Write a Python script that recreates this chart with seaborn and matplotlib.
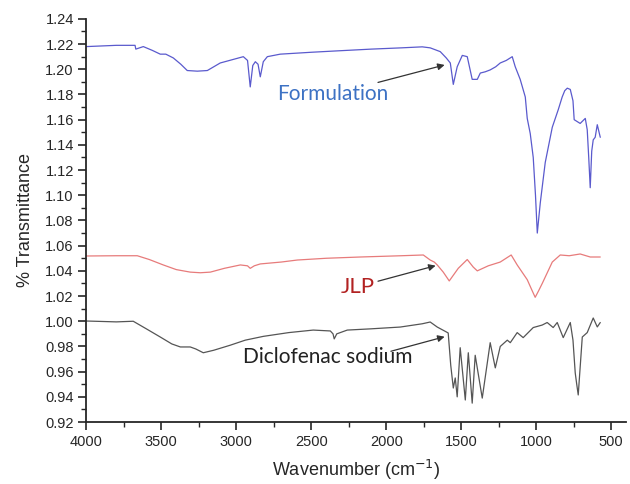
import numpy as np
import pandas as pd
import matplotlib
matplotlib.use("Agg")
import matplotlib.pyplot as plt
from matplotlib.ticker import MultipleLocator
import seaborn as sns

# --- data ---
form_wn = [4000, 3900, 3800, 3700, 3675, 3670, 3620, 3560, 3507, 3470, 3420, 3370, 3327, 3260, 3193, 3107,
           2953, 2925, 2907, 2890, 2873, 2855, 2840, 2820, 2793, 2707, 2500, 2327, 2100, 1900, 1760, 1707,
           1640, 1600, 1573, 1553, 1527, 1493, 1460, 1427, 1393, 1373, 1340, 1307, 1270, 1240, 1200, 1160,
           1140, 1107, 1073, 1060, 1040, 1020, 1005, 993, 973, 940, 893, 853, 827, 810, 793, 773, 755, 747,
           707, 673, 660, 650, 640, 630, 620, 607, 593, 573]
form_val = [1.218, 1.2185, 1.219, 1.219, 1.219, 1.216, 1.218, 1.215, 1.212, 1.212, 1.209, 1.204, 1.199, 1.1985,
            1.199, 1.205, 1.210, 1.207, 1.186, 1.203, 1.206, 1.204, 1.194, 1.206, 1.210, 1.212, 1.2135, 1.2146,
            1.216, 1.217, 1.2178, 1.217, 1.214, 1.209, 1.205, 1.188, 1.202, 1.211, 1.210, 1.192, 1.192, 1.197,
            1.198, 1.1995, 1.202, 1.205, 1.207, 1.210, 1.202, 1.192, 1.178, 1.161, 1.149, 1.130, 1.100, 1.070,
            1.094, 1.126, 1.154, 1.168, 1.178, 1.183, 1.185, 1.184, 1.175, 1.160, 1.157, 1.161, 1.152, 1.130,
            1.106, 1.135, 1.144, 1.146, 1.156, 1.146]

jlp_wn = [4000, 3800, 3660, 3580, 3487, 3400, 3307, 3240, 3173, 3080, 2973, 2925, 2907, 2880, 2840, 2700,
          2593, 2400, 2173, 1900, 1753, 1707, 1680, 1660, 1620, 1580, 1520, 1460, 1420, 1393, 1320, 1240,
          1167, 1127, 1060, 1030, 1007, 985, 960, 893, 840, 780, 707, 640, 573]
jlp_val = [1.0518, 1.052, 1.052, 1.049, 1.0447, 1.041, 1.039, 1.0385, 1.039, 1.042, 1.0447, 1.044, 1.042,
           1.044, 1.0455, 1.047, 1.0486, 1.050, 1.051, 1.052, 1.0526, 1.0486, 1.047, 1.0447, 1.039, 1.032,
           1.042, 1.049, 1.043, 1.040, 1.044, 1.047, 1.0526, 1.0447, 1.033, 1.025, 1.019, 1.024, 1.030, 1.047,
           1.0526, 1.052, 1.0534, 1.051, 1.051]

dic_wn = [4000, 3800, 3687, 3600, 3507, 3430, 3373, 3307, 3270, 3220, 3150, 3040, 2940, 2820, 2650, 2487,
          2373, 2355, 2347, 2330, 2260, 2100, 1907, 1760, 1707, 1660, 1607, 1587, 1570, 1553, 1540, 1527,
          1507, 1473, 1453, 1427, 1407, 1360, 1307, 1273, 1240, 1193, 1173, 1127, 1087, 1020, 960, 927, 887,
          860, 820, 773, 755, 740, 730, 720, 693, 660, 620, 593, 573]
dic_val = [1.0002, 0.9995, 1.000, 0.994, 0.9875, 0.982, 0.9796, 0.9796, 0.978, 0.975, 0.977, 0.981, 0.985,
           0.988, 0.991, 0.993, 0.9923, 0.990, 0.986, 0.990, 0.993, 0.994, 0.9954, 0.998, 0.9994, 0.9954,
           0.992, 0.9907, 0.965, 0.947, 0.955, 0.940, 0.979, 0.9375, 0.975, 0.935, 0.973, 0.939, 0.983,
           0.963, 0.980, 0.985, 0.983, 0.991, 0.987, 0.995, 0.997, 0.999, 0.995, 0.999, 0.987, 0.999, 0.985,
           0.959, 0.950, 0.9415, 0.9875, 0.991, 1.0026, 0.9955, 0.999]

series_names = ["Formulation", "JLP", "Diclofenac sodium"]
line_colors = ["#5a5acd", "#e77b7b", "#555555"]
label_colors = ["#3d72c4", "#b22222", "#222222"]

df = pd.concat([
    pd.DataFrame({"wn": form_wn, "val": form_val, "series": series_names[0]}),
    pd.DataFrame({"wn": jlp_wn, "val": jlp_val, "series": series_names[1]}),
    pd.DataFrame({"wn": dic_wn, "val": dic_val, "series": series_names[2]}),
])

sns.set_style("ticks")
plt.rcParams["font.family"] = ["Liberation Sans", "DejaVu Sans"]

fig = plt.figure(figsize=(6.3, 4.84), dpi=100)
ax = fig.add_axes([0.137, 0.128, 0.857, 0.833])

sns.lineplot(data=df, x="wn", y="val", hue="series", palette=dict(zip(series_names, line_colors)),
             sort=False, estimator=None, linewidth=0.9, legend=False, ax=ax)

ax.set_xlim(4000, 400)
ax.set_ylim(0.92, 1.24)
ax.xaxis.set_major_locator(MultipleLocator(500))
ax.xaxis.set_minor_locator(MultipleLocator(250))
ax.yaxis.set_major_locator(MultipleLocator(0.02))
ax.yaxis.set_minor_locator(MultipleLocator(0.01))
ax.yaxis.set_major_formatter(matplotlib.ticker.FormatStrFormatter("%.2f"))
ax.tick_params(which="major", direction="out", length=6, width=1.2, labelsize=10.5, pad=3)
ax.tick_params(which="minor", direction="out", length=3.5, width=1.0)
for s in ["top", "right"]:
    ax.spines[s].set_visible(False)
for s in ["left", "bottom"]:
    ax.spines[s].set_linewidth(1.3)

ax.set_xlabel("Wavenumber (cm$^{-1}$)", fontsize=13, labelpad=7)
ax.set_ylabel("% Transmittance", fontsize=13, labelpad=8)

ann_font = ["Lato", "DejaVu Sans"]
arrowprops = dict(arrowstyle="-|>", color="#333333", lw=0.9, mutation_scale=10)
ax.annotate("", xy=(1593, 1.204), xytext=(2073, 1.189), arrowprops=arrowprops)
ax.annotate("", xy=(1653, 1.0447), xytext=(2073, 1.0312), arrowprops=arrowprops)
ax.annotate("", xy=(1593, 0.9883), xytext=(1987, 0.9756), arrowprops=arrowprops)
ax.text(2360, 1.180, series_names[0], color=label_colors[0], fontsize=15, family=ann_font,
        ha="center", va="center")
ax.text(2193, 1.027, series_names[1], color=label_colors[1], fontsize=16, family=ann_font,
        ha="center", va="center")
ax.text(2393, 0.9716, series_names[2], color=label_colors[2], fontsize=15, family=ann_font,
        ha="center", va="center")

fig.savefig("out.png", dpi=100)
